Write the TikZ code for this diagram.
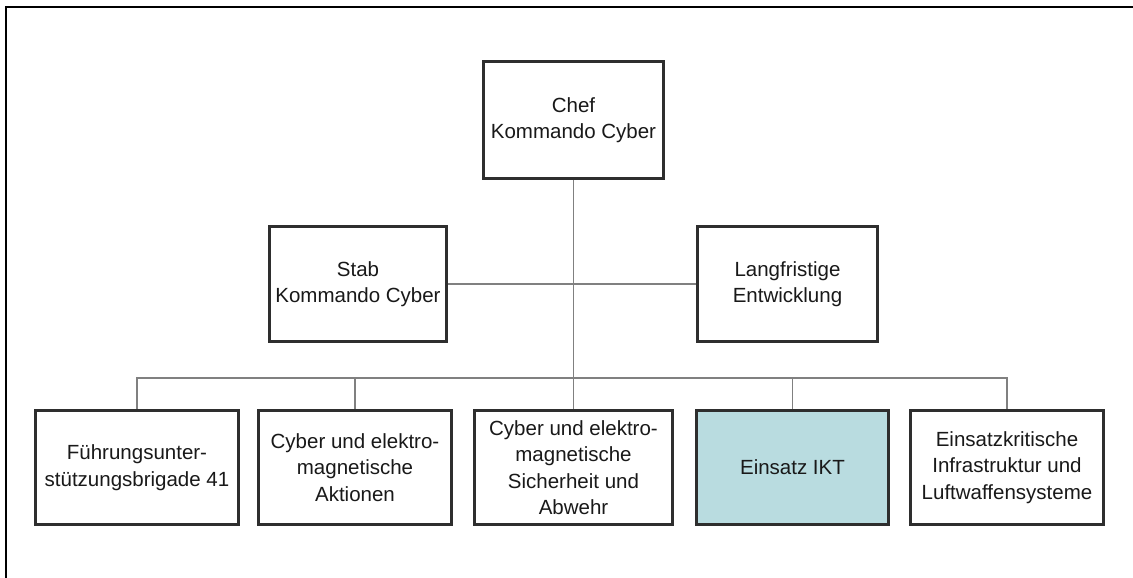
\documentclass[tikz,border=0pt]{standalone}
\usepackage{fontspec}
\setmainfont{Liberation Sans}
\definecolor{boxline}{HTML}{2E2E2E}
\definecolor{connline}{HTML}{808080}
\definecolor{ikt}{HTML}{B9DCE0}
\begin{document}
\begin{tikzpicture}[x=1pt,y=-1pt,
  orgbox/.style={draw=boxline,line width=1.8pt,fill=white,inner sep=0pt,align=center,
    font=\fontsize{20.5}{26.5}\selectfont,text=black!90},
  conn/.style={draw=connline,line width=1.4pt}]
\useasboundingbox (0,0) rectangle (1133,578);
\fill[white] (0,0) rectangle (1133,578);
% outer frame (only top and left edges visible)
\coordinate (fa) at (6,578);
\coordinate (fb) at (6,7);
\coordinate (fc) at (1133,7);
\draw[line width=2.6pt,black] (fa) -- (fb) -- (fc);
% nodes
\node[orgbox,minimum width=179pt,minimum height=116pt] (chef) at (573.5,120) {Chef\\Kommando Cyber};
\node[orgbox,minimum width=176pt,minimum height=114pt] (stab) at (358,284) {Stab\\Kommando Cyber};
\node[orgbox,minimum width=179pt,minimum height=114pt] (lang) at (787.5,284) {Langfristige\\Entwicklung};
\node[orgbox,minimum width=202pt,minimum height=113pt] (b1) at (137,467.5) {Führungsunter-\\stützungsbrigade 41};
\node[orgbox,minimum width=192pt,minimum height=113pt] (b2) at (355,467.5) {Cyber und elektro-\\magnetische\\Aktionen};
\node[orgbox,minimum width=197pt,minimum height=113pt] (b3) at (573.5,467.5) {Cyber und elektro-\\magnetische\\Sicherheit und\\Abwehr};
\node[orgbox,fill=ikt,minimum width=191pt,minimum height=113pt] (b4) at (792.5,467.5) {Einsatz IKT};
\node[orgbox,minimum width=192pt,minimum height=113pt] (b5) at (1007,467.5) {Einsatzkritische\\Infrastruktur und\\Luftwaffensysteme};
% connectors
\coordinate (bus) at (573.5,378);
\draw[conn] (chef.south) -- (b3.north);
\draw[conn] (stab.east) -- (lang.east -| lang.west);
\draw[conn] (b1.north) -- (b1.north |- bus) -- (b5.north |- bus) -- (b5.north);
\draw[conn] (b2.north) -- (b2.north |- bus);
\draw[conn] (b4.north) -- (b4.north |- bus);
% redraw box borders on top
\foreach \n in {chef,stab,lang,b1,b2,b3,b4,b5}{
  \draw[boxline,line width=1.8pt] (\n.north west) rectangle (\n.south east);
}
\end{tikzpicture}
\end{document}
